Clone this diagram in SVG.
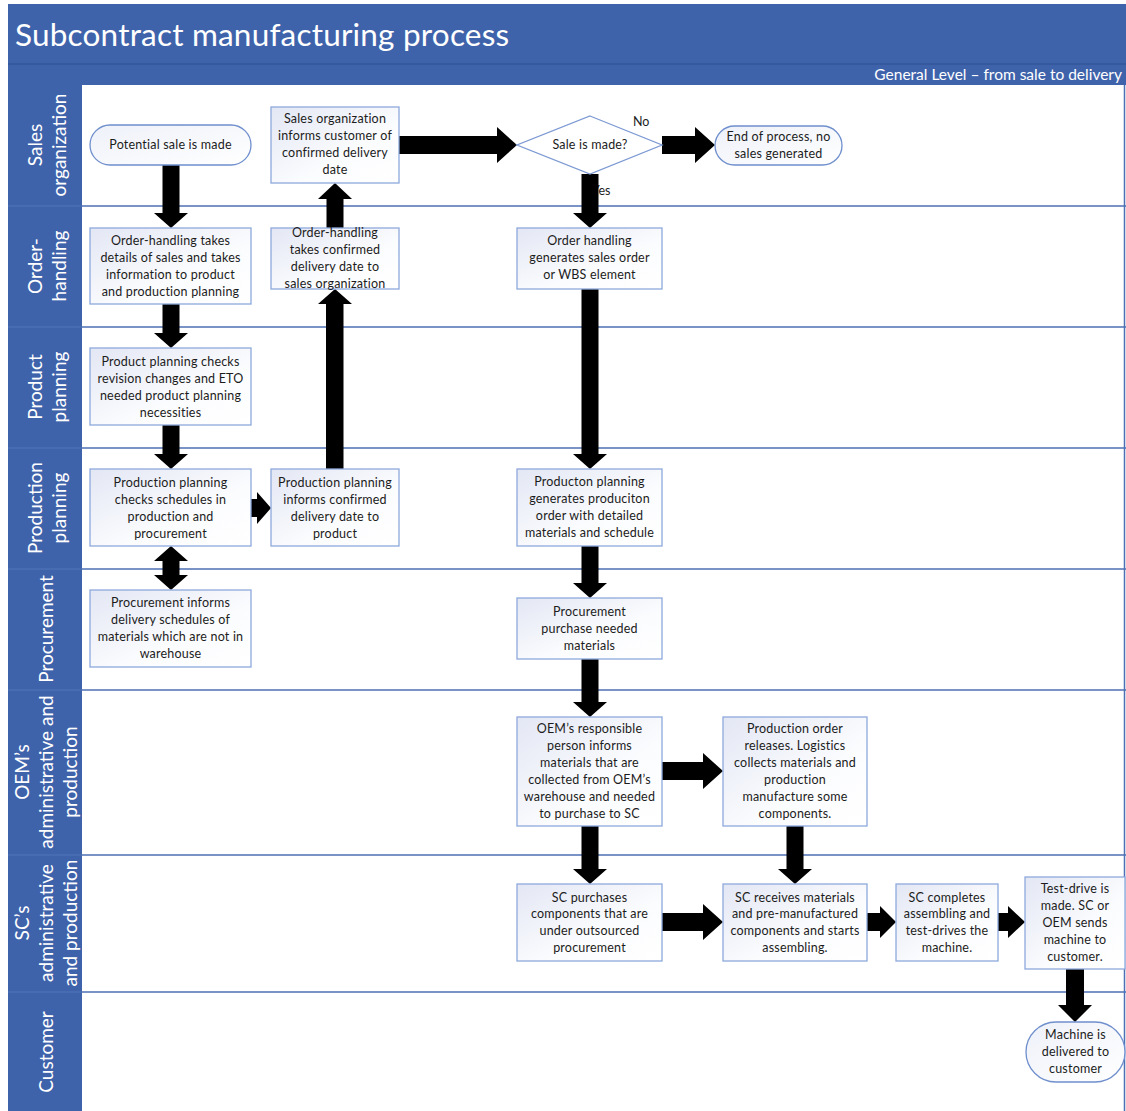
<svg xmlns="http://www.w3.org/2000/svg" width="1126" height="1111" viewBox="0 0 1126 1111">
  <defs>
    <linearGradient id="boxFill" x1="0" y1="0" x2="1" y2="1">
      <stop offset="0" stop-color="#e3e7f4"/>
      <stop offset="0.6" stop-color="#fbfcfe"/>
      <stop offset="1" stop-color="#ffffff"/>
    </linearGradient>
    <linearGradient id="pillFill" x1="0" y1="0" x2="1" y2="1">
      <stop offset="0" stop-color="#eef1f9"/>
      <stop offset="1" stop-color="#ffffff"/>
    </linearGradient>
  </defs>
  <style>
    .band { fill: #3f63ab; }
    .laneLine { stroke: #4d6fb3; stroke-width: 1.5; fill: none; }
    .laneSep { stroke: #2f4f8f; stroke-width: 1; }
    .title { font-family: Lato, "Liberation Sans", sans-serif; font-size: 31.5px; letter-spacing: 0.2px; fill: #ffffff; }
    .subtitle { font-family: Lato, "Liberation Sans", sans-serif; font-size: 15.5px; fill: #ffffff; }
    .laneText { font-family: Lato, "Liberation Sans", sans-serif; font-size: 19px; fill: #ffffff; text-anchor: middle; }
    .box { fill: url(#boxFill); stroke: #8ea9dc; stroke-width: 1.3; }
    .pill { fill: url(#pillFill); stroke: #6f8fcd; stroke-width: 1.3; }
    .diamond { fill: #ffffff; stroke: #7d9ad3; stroke-width: 1.3; }
    .t { font-family: Lato, "Liberation Sans", sans-serif; font-size: 12.5px; fill: #1c1c1c; text-anchor: middle; letter-spacing: 0.2px; }
    .lbl { font-family: Lato, "Liberation Sans", sans-serif; font-size: 12.5px; fill: #1c1c1c; }
    .arrow { fill: #000000; stroke: none; }
  </style>

  <!-- background -->
  <rect x="0" y="0" width="1126" height="1111" fill="#ffffff"/>

  <!-- header bands -->
  <rect class="band" x="8" y="4" width="1118" height="81"/>
  <line class="laneSep" x1="8" y1="64" x2="1126" y2="64"/>
  <text class="title" x="15" y="46">Subcontract manufacturing process</text>
  <text class="subtitle" x="1122" y="80" text-anchor="end">General Level – from sale to delivery</text>

  <!-- lane header column -->
  <rect class="band" x="8" y="85" width="74" height="1026"/>
  <g id="lane-lines">
    <line class="laneLine" x1="8" y1="206" x2="1126" y2="206"/>
    <line class="laneLine" x1="8" y1="327" x2="1126" y2="327"/>
    <line class="laneLine" x1="8" y1="448" x2="1126" y2="448"/>
    <line class="laneLine" x1="8" y1="569" x2="1126" y2="569"/>
    <line class="laneLine" x1="8" y1="690" x2="1126" y2="690"/>
    <line class="laneLine" x1="8" y1="855" x2="1126" y2="855"/>
    <line class="laneLine" x1="8" y1="992" x2="1126" y2="992"/>
    <line class="laneLine" x1="1124.5" y1="85" x2="1124.5" y2="1111"/>
  </g>

  <!-- lane titles -->
  <g id="lane-titles">
    <g transform="translate(0,145) rotate(-90)">
      <text class="laneText" x="0" y="42">Sales</text>
      <text class="laneText" x="0" y="66">organization</text>
    </g>
    <g transform="translate(0,266) rotate(-90)">
      <text class="laneText" x="0" y="42">Order-</text>
      <text class="laneText" x="0" y="66">handling</text>
    </g>
    <g transform="translate(0,387) rotate(-90)">
      <text class="laneText" x="0" y="42">Product</text>
      <text class="laneText" x="0" y="66">planning</text>
    </g>
    <g transform="translate(0,508) rotate(-90)">
      <text class="laneText" x="0" y="42">Production</text>
      <text class="laneText" x="0" y="66">planning</text>
    </g>
    <g transform="translate(0,629) rotate(-90)">
      <text class="laneText" x="0" y="53">Procurement</text>
    </g>
    <g transform="translate(0,772) rotate(-90)">
      <text class="laneText" x="0" y="29">OEM’s</text>
      <text class="laneText" x="0" y="53">administrative and</text>
      <text class="laneText" x="0" y="77">production</text>
    </g>
    <g transform="translate(0,923) rotate(-90)">
      <text class="laneText" x="0" y="29">SC’s</text>
      <text class="laneText" x="0" y="53">administrative</text>
      <text class="laneText" x="0" y="77">and production</text>
    </g>
    <g transform="translate(0,1052) rotate(-90)">
      <text class="laneText" x="0" y="53">Customer</text>
    </g>
  </g>

  <!-- connectors: block arrows -->
  <g id="connectors">
    <text class="lbl" x="633" y="126">No</text>
    <text class="lbl" x="592" y="195">Yes</text>
    <!-- potential sale -> order-handling -->
    <path class="arrow" d="M162.5,165 V213 H154 L171,228 L188,213 H179.5 V165 Z"/>
    <!-- order-handling -> product planning -->
    <path class="arrow" d="M162.5,304 V333 H154 L171,348 L188,333 H179.5 V304 Z"/>
    <!-- product planning -> production planning -->
    <path class="arrow" d="M162.5,425 V454 H154 L171,469 L188,454 H179.5 V425 Z"/>
    <!-- production planning <-> procurement -->
    <path class="arrow" d="M171,546 L188,561 H179.5 V575 H188 L171,590 L154,575 H162.5 V561 H154 Z"/>
    <!-- production planning -> informs confirmed date -->
    <path class="arrow" d="M251,499 H257 V492 L271,508 L257,524 V517 H251 Z"/>
    <!-- informs confirmed date -> order-handling (up) -->
    <path class="arrow" d="M326,469 V304 H318 L335,289 L352,304 H343.5 V469 Z"/>
    <!-- order-handling -> sales organization (up) -->
    <path class="arrow" d="M326.5,228 V199 H318 L335,183 L352,199 H343.5 V228 Z"/>
    <!-- sales organization -> decision -->
    <path class="arrow" d="M399,136 H497 V127 L517,145 L497,163 V154 H399 Z"/>
    <!-- decision (no) -> end of process -->
    <path class="arrow" d="M662,136 H695 V127 L715,145 L695,163 V154 H662 Z"/>
    <!-- decision (yes) -> order handling -->
    <path class="arrow" d="M581.5,174 V213 H573 L590,228 L607,213 H598.5 V174 Z"/>
    <!-- order handling -> production planning -->
    <path class="arrow" d="M581.5,289 V454 H573 L590,469 L607,454 H598.5 V289 Z"/>
    <!-- production planning -> procurement -->
    <path class="arrow" d="M581.5,546 V583 H573 L590,598 L607,583 H598.5 V546 Z"/>
    <!-- procurement -> OEM's responsible person -->
    <path class="arrow" d="M581.5,659 V702 H573 L590,717 L607,702 H598.5 V659 Z"/>
    <!-- OEM's responsible person -> production order -->
    <path class="arrow" d="M662,762 H703 V753 L723,771 L703,789 V780 H662 Z"/>
    <!-- OEM's responsible person -> SC purchases -->
    <path class="arrow" d="M581.5,826 V869 H573 L590,884 L607,869 H598.5 V826 Z"/>
    <!-- production order -> SC receives -->
    <path class="arrow" d="M786.5,826 V869 H778 L795,884 L812,869 H803.5 V826 Z"/>
    <!-- SC purchases -> SC receives -->
    <path class="arrow" d="M662,913 H703 V904 L723,922 L703,940 V931 H662 Z"/>
    <!-- SC receives -> SC completes -->
    <path class="arrow" d="M867,913 H880 V906 L896,922 L880,938 V931 H867 Z"/>
    <!-- SC completes -> test-drive -->
    <path class="arrow" d="M998,913 H1008 V906 L1025,922 L1008,938 V931 H998 Z"/>
    <!-- test-drive -> machine delivered -->
    <path class="arrow" d="M1066,969 V1005 H1058 L1075,1022 L1092,1005 H1084 V969 Z"/>
  </g>

  <!-- nodes -->
  <g id="n-potential-sale">
    <rect class="pill" x="90" y="125" width="161" height="40" rx="20"/>
    <text class="t" x="170.5" y="149">Potential sale is made</text>
  </g>
  <g id="n-sales-informs">
    <rect class="box" x="271" y="107" width="128" height="76"/>
    <text class="t" x="335" y="123">Sales organization</text>
    <text class="t" x="335" y="140">informs customer of</text>
    <text class="t" x="335" y="157">confirmed delivery</text>
    <text class="t" x="335" y="174">date</text>
  </g>
  <g id="n-decision">
    <polygon class="diamond" points="590,116 662,145 590,174 517,145"/>
    <text class="t" x="590" y="149">Sale is made?</text>
  </g>
  <g id="n-end">
    <rect class="pill" x="715" y="126" width="127" height="39" rx="19.5"/>
    <text class="t" x="778.5" y="141">End of process, no</text>
    <text class="t" x="778.5" y="158">sales generated</text>
  </g>
  <g id="n-order-details">
    <rect class="box" x="90" y="228" width="161" height="76"/>
    <text class="t" x="170.5" y="245">Order-handling takes</text>
    <text class="t" x="170.5" y="262">details of sales and takes</text>
    <text class="t" x="170.5" y="279">information to product</text>
    <text class="t" x="170.5" y="296">and production planning</text>
  </g>
  <g id="n-order-confirmed">
    <rect class="box" x="271" y="228" width="128" height="61"/>
    <text class="t" x="335" y="237">Order-handling</text>
    <text class="t" x="335" y="254">takes confirmed</text>
    <text class="t" x="335" y="271">delivery date to</text>
    <text class="t" x="335" y="288">sales organization</text>
  </g>
  <g id="n-order-generates">
    <rect class="box" x="517" y="228" width="145" height="61"/>
    <text class="t" x="589.5" y="245">Order handling</text>
    <text class="t" x="589.5" y="262">generates sales order</text>
    <text class="t" x="589.5" y="279">or WBS element</text>
  </g>
  <g id="n-product-planning">
    <rect class="box" x="90" y="348" width="161" height="77"/>
    <text class="t" x="170.5" y="366">Product planning checks</text>
    <text class="t" x="170.5" y="383">revision changes and ETO</text>
    <text class="t" x="170.5" y="400">needed product planning</text>
    <text class="t" x="170.5" y="417">necessities</text>
  </g>
  <g id="n-production-checks">
    <rect class="box" x="90" y="469" width="161" height="77"/>
    <text class="t" x="170.5" y="487">Production planning</text>
    <text class="t" x="170.5" y="504">checks schedules in</text>
    <text class="t" x="170.5" y="521">production and</text>
    <text class="t" x="170.5" y="538">procurement</text>
  </g>
  <g id="n-production-informs">
    <rect class="box" x="271" y="469" width="128" height="77"/>
    <text class="t" x="335" y="487">Production planning</text>
    <text class="t" x="335" y="504">informs confirmed</text>
    <text class="t" x="335" y="521">delivery date to</text>
    <text class="t" x="335" y="538">product</text>
  </g>
  <g id="n-production-order">
    <rect class="box" x="517" y="469" width="145" height="77"/>
    <text class="t" x="589.5" y="486">Producton planning</text>
    <text class="t" x="589.5" y="503">generates produciton</text>
    <text class="t" x="589.5" y="520">order with detailed</text>
    <text class="t" x="589.5" y="537">materials and schedule</text>
  </g>
  <g id="n-procurement-informs">
    <rect class="box" x="90" y="590" width="161" height="77"/>
    <text class="t" x="170.5" y="607">Procurement informs</text>
    <text class="t" x="170.5" y="624">delivery schedules of</text>
    <text class="t" x="170.5" y="641">materials which are not in</text>
    <text class="t" x="170.5" y="658">warehouse</text>
  </g>
  <g id="n-procurement-purchase">
    <rect class="box" x="517" y="598" width="145" height="61"/>
    <text class="t" x="589.5" y="616">Procurement</text>
    <text class="t" x="589.5" y="633">purchase needed</text>
    <text class="t" x="589.5" y="650">materials</text>
  </g>
  <g id="n-oem-responsible">
    <rect class="box" x="517" y="717" width="145" height="109"/>
    <text class="t" x="589.5" y="733">OEM’s responsible</text>
    <text class="t" x="589.5" y="750">person informs</text>
    <text class="t" x="589.5" y="767">materials that are</text>
    <text class="t" x="589.5" y="784">collected from OEM’s</text>
    <text class="t" x="589.5" y="801">warehouse and needed</text>
    <text class="t" x="589.5" y="818">to purchase to SC</text>
  </g>
  <g id="n-order-releases">
    <rect class="box" x="723" y="717" width="144" height="109"/>
    <text class="t" x="795" y="733">Production order</text>
    <text class="t" x="795" y="750">releases. Logistics</text>
    <text class="t" x="795" y="767">collects materials and</text>
    <text class="t" x="795" y="784">production</text>
    <text class="t" x="795" y="801">manufacture some</text>
    <text class="t" x="795" y="818">components.</text>
  </g>
  <g id="n-sc-purchases">
    <rect class="box" x="517" y="884" width="145" height="77"/>
    <text class="t" x="589.5" y="902">SC purchases</text>
    <text class="t" x="589.5" y="918">components that are</text>
    <text class="t" x="589.5" y="935">under outsourced</text>
    <text class="t" x="589.5" y="952">procurement</text>
  </g>
  <g id="n-sc-receives">
    <rect class="box" x="723" y="884" width="144" height="77"/>
    <text class="t" x="795" y="902">SC receives materials</text>
    <text class="t" x="795" y="918">and pre-manufactured</text>
    <text class="t" x="795" y="935">components and starts</text>
    <text class="t" x="795" y="952">assembling.</text>
  </g>
  <g id="n-sc-completes">
    <rect class="box" x="896" y="884" width="102" height="77"/>
    <text class="t" x="947" y="902">SC completes</text>
    <text class="t" x="947" y="918">assembling and</text>
    <text class="t" x="947" y="935">test-drives the</text>
    <text class="t" x="947" y="952">machine.</text>
  </g>
  <g id="n-test-drive">
    <rect class="box" x="1025" y="877" width="100" height="92"/>
    <text class="t" x="1075" y="893">Test-drive is</text>
    <text class="t" x="1075" y="910">made. SC or</text>
    <text class="t" x="1075" y="927">OEM sends</text>
    <text class="t" x="1075" y="944">machine to</text>
    <text class="t" x="1075" y="961">customer.</text>
  </g>
  <g id="n-delivered">
    <rect class="pill" x="1026" y="1022" width="99" height="60" rx="30"/>
    <text class="t" x="1075.5" y="1039">Machine is</text>
    <text class="t" x="1075.5" y="1056">delivered to</text>
    <text class="t" x="1075.5" y="1073">customer</text>
  </g>
</svg>
